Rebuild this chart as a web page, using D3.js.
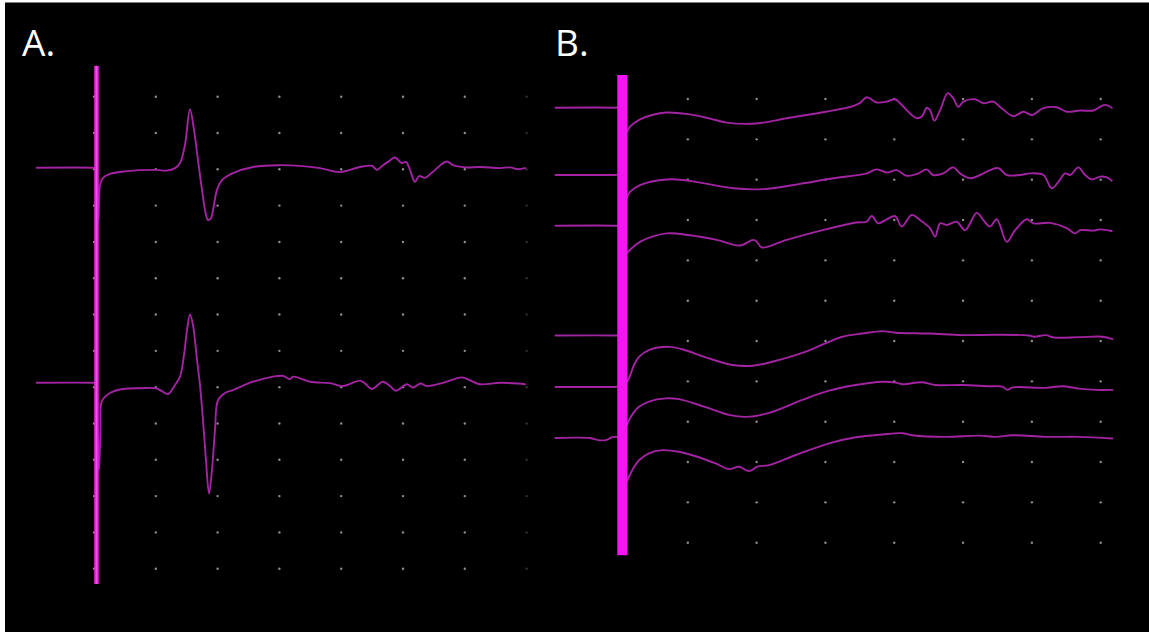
<!DOCTYPE html>
<html>
<head>
<meta charset="utf-8">
<script src="https://cdn.jsdelivr.net/npm/d3@7"></script>
<style>
  html, body { margin: 0; padding: 0; background: #ffffff; }
  svg { display: block; }
</style>
</head>
<body>
<svg id="chart" width="1149" height="632"></svg>
<script>
// ---------------- DATA ----------------
// Panel A: time in ms (1 ms / division), amplitude in mV (1 mV / division)
const gridTimesA = [0, 1, 2, 3, 4, 5, 6, 7];
const gridLevelsA = [0, 1, 2, 3, 4, 5, 6, 7, 8, 9, 10, 11, 12, 13];
const stimTimeA = 0.04;

const traceA1 = [[-0.927,0],[-0.032,0],[0.016,-0.01],[0.049,-0.89],[0.073,-1.44],[0.097,-0.48],[0.146,-0.28],[0.259,-0.17],[0.502,-0.10],[1.003,-0.06],[1.176,-0.08],[1.311,-0.01],[1.392,0.13],[1.472,0.63],[1.553,1.61],[1.618,1.04],[1.683,0.21],[1.748,-0.61],[1.812,-1.30],[1.845,-1.44],[1.893,-1.39],[1.926,-1.17],[1.99,-0.61],[2.071,-0.34],[2.249,-0.15],[2.573,0.02],[2.994,0.07],[3.333,0.05],[3.657,-0.01],[3.981,-0.12],[4.304,0.02],[4.5,0.05],[4.579,-0.06],[4.676,0.07],[4.757,0.16],[4.871,0.28],[4.979,0.13],[5.049,0.16],[5.113,-0.06],[5.194,-0.39],[5.259,-0.23],[5.356,-0.28],[5.485,-0.11],[5.707,0.17],[5.809,0.07],[6.003,0.01],[6.246,0.02],[6.57,-0.01],[6.731,0.01],[6.861,-0.04],[6.974,-0.01]];

const traceA2 = [[-0.927,0],[-0.032,0],[0.016,-0.01],[0.049,-1.03],[0.081,-2.40],[0.105,-1.30],[0.129,-0.50],[0.259,-0.28],[0.469,-0.17],[0.744,-0.15],[1.003,-0.15],[1.1,-0.23],[1.197,-0.31],[1.311,-0.06],[1.392,0.17],[1.456,0.76],[1.505,1.45],[1.553,1.88],[1.602,1.59],[1.667,0.63],[1.715,-0.06],[1.764,-1.03],[1.812,-2.13],[1.861,-3.05],[1.909,-2.40],[1.958,-1.30],[2.006,-0.48],[2.12,-0.28],[2.249,-0.20],[2.573,0.03],[2.896,0.17],[3.058,0.19],[3.172,0.10],[3.22,0.17],[3.495,0.03],[3.819,-0.01],[4.029,-0.09],[4.304,0.06],[4.401,-0.04],[4.494,-0.17],[4.676,0.03],[4.79,-0.09],[4.887,-0.22],[5.06,-0.04],[5.162,-0.13],[5.286,-0.02],[5.383,-0.09],[5.647,0],[5.95,0.15],[6.084,0.07],[6.246,-0.04],[6.57,0],[6.861,-0.02],[6.974,-0.04]];

// Panel B: time in ms (10 ms / division), amplitude in µV (10 µV / division)
const gridTimesB = [0, 10, 20, 30, 40, 50, 60, 70];
const gridLevelsB = [0, 1, 2, 3, 4, 5, 6, 7, 8, 9, 10, 11];
const stimTimeB = 0.49;

const traceB1 = [[-9.23,0],[-0.58,0],[0.15,-0.1],[0.58,-6.8],[1.16,-5.9],[1.6,-4.7],[3.05,-2.9],[4.8,-1.8],[6.93,-1.2],[10.03,-1.6],[13.23,-2.7],[15.66,-3.7],[20.01,-3.9],[24.38,-2.6],[30.04,-1.0],[34.01,0.4],[35.03,1.2],[36.0,2.6],[37.46,1.3],[38.91,1.5],[40.12,2.1],[40.84,1.1],[42.54,-1.8],[43.27,-2.6],[44.0,-2.2],[44.72,0],[45.2,-0.6],[45.83,-3.2],[46.66,-0.6],[47.78,3.6],[48.59,2.3],[49.32,0.2],[50.04,1.5],[51.74,2.1],[52.95,1.1],[54.4,1.5],[55.38,0.2],[57.31,-2.1],[58.77,-1.0],[59.99,-1.8],[61.67,-0.1],[63.62,0.1],[65.07,-1.0],[67.01,-0.7],[68.94,-0.7],[69.91,0.2],[70.64,0.7],[71.61,0]];

const traceB2 = [[-9.23,0],[-0.58,0],[0.15,0],[0.58,-8.7],[1.16,-5.4],[1.6,-4.2],[3.05,-2.5],[6.93,-1.1],[10.03,-1.4],[16.61,-3.3],[20.97,-3.5],[26.31,-2.2],[31.15,-0.8],[36.0,0.4],[37.46,1.4],[38.91,0.6],[40.36,1.2],[41.82,-0.2],[43.5,0.4],[44.72,1.4],[45.64,0],[47.14,0.4],[48.59,1.9],[49.56,0.4],[51.02,-0.8],[52.47,0],[53.92,1.2],[55.13,1.7],[56.35,0],[58.28,0],[59.74,0.4],[61.67,0],[62.89,-3.3],[63.85,-1.7],[64.83,0.4],[65.55,0],[66.76,1.9],[67.73,0],[68.71,-1.1],[69.91,-0.4],[70.88,-0.6],[71.61,-1.4]];

const traceB3 = [[-9.23,0],[-0.58,0],[0.15,-0.1],[0.58,-9.0],[1.16,-6.8],[1.6,-6.0],[3.05,-4.0],[6.93,-1.9],[10.03,-2.3],[14.2,-3.5],[17.59,-4.9],[19.52,-3.5],[20.06,-4.0],[20.74,-5.4],[24.38,-3.5],[30.04,-0.9],[34.55,0.8],[36.0,1.0],[36.73,2.4],[37.69,0.6],[38.91,1.6],[40.12,2.4],[41.09,-0.2],[42.54,2.7],[43.75,1.4],[45.2,-0.6],[45.93,-2.7],[46.66,0.6],[47.63,0.2],[49.08,1.0],[50.29,-1.1],[51.99,3.2],[52.95,1.4],[53.92,-0.2],[54.9,1.6],[56.35,-4.0],[57.56,-1.1],[59.26,1.6],[60.22,0.6],[62.65,0.7],[65.07,-0.6],[66.28,-1.9],[67.01,-1.1],[68.94,-1.2],[69.91,-0.9],[71.61,-1.3]];

const traceB4 = [[-9.23,0],[-0.58,0],[0.15,-0.1],[0.73,-12.3],[1.45,-10.6],[2.18,-7.3],[2.91,-5.3],[4.36,-3.6],[7.27,-2.8],[9.2,-3.4],[12.6,-5.4],[16.47,-7.3],[19.38,-7.5],[22.28,-6.5],[26.64,-4.3],[30.04,-1.9],[32.46,-0.3],[35.36,0.5],[38.27,1.1],[40.22,0.7],[45.06,0.5],[49.9,0.1],[54.75,0.2],[59.59,0],[60.32,-0.3],[62.02,0.1],[63.23,-0.5],[66.86,-0.4],[70.25,-0.3],[71.7,-0.9]];

const traceB5 = [[-9.23,0],[-0.58,0],[0.15,0],[0.73,-10.7],[1.45,-8.2],[2.18,-6.2],[2.91,-4.9],[4.36,-3.6],[6.79,-2.8],[8.72,-3.0],[12.6,-5.0],[15.99,-6.9],[18.42,-7.4],[21.8,-6.4],[26.64,-3.2],[30.52,-0.9],[34.4,0.5],[38.27,1.3],[40.22,1.1],[41.18,0.7],[44.08,1.2],[46.03,0.5],[49.9,0.5],[53.78,0.2],[55.71,0.1],[56.44,-0.7],[57.17,-0.1],[62.02,-0.2],[64.43,0.2],[66.86,-0.4],[69.29,-0.7],[71.7,-0.7]];

const traceB6 = [[-9.23,0],[-4.22,0],[-3.05,-0.5],[-1.89,-0.5],[-1.02,0.2],[0.15,0],[0.73,-11.7],[1.45,-9.6],[2.18,-7.2],[2.91,-5.5],[4.36,-3.8],[6.29,-3.0],[8.72,-3.4],[11.15,-4.5],[14.05,-6.3],[15.99,-7.7],[17.44,-7.1],[18.9,-8.2],[20.1,-7.1],[21.8,-6.7],[25.68,-4.2],[30.52,-1.3],[34.4,0.2],[38.27,0.9],[41.18,1.2],[42.63,0.7],[47.49,0.3],[52.33,0.6],[54.75,0.3],[57.17,0.7],[62.02,0.3],[66.86,0.3],[71.7,-0.1]];

const panelLabels = ["A.", "B."];

// ---------------- LAYOUT ----------------
const W = 1149, H = 632;
const svg = d3.select("#chart");

svg.append("rect").attr("x", 0).attr("y", 0).attr("width", W).attr("height", H).attr("fill", "#ffffff");
svg.append("rect").attr("x", 5).attr("y", 2.5).attr("width", W - 5).attr("height", H - 2.5).attr("fill", "#000000");

const traceColor = "#a224a2";
const dotColor = "#9c9c9c";

// Panel A scales (divisions)
const xA = d3.scaleLinear().domain([0, 7]).range([94, 526.6]);
const yA = d3.scaleLinear().domain([0, 13]).range([96.7, 568.7]);
const mVPerDivA = 1;
const channelPosA = [1.956, 7.88];

// Panel B scales
const xB = d3.scaleLinear().domain([0, 70]).range([619, 1100.7]);
const yB = d3.scaleLinear().domain([0, 11]).range([99, 542.7]);
const uVPerDivB = 10;
const channelPosB = [0.216, 1.884, 3.142, 5.864, 7.141, 8.406];

function drawGrid(g, xs, ys, times, levels, fadeLast) {
  const pts = [];
  times.forEach((t, i) => levels.forEach(l => pts.push({t, l, faint: fadeLast && i === times.length - 1})));
  g.append("g").selectAll("circle").data(pts).join("circle")
    .attr("cx", d => xs(d.t)).attr("cy", d => ys(d.l))
    .attr("r", 1.2)
    .attr("fill", dotColor)
    .attr("opacity", d => d.faint ? 0.3 : 0.9);
}

function drawTraces(g, xs, ys, traces, positions, perDiv) {
  traces.forEach((tr, i) => {
    const line = d3.line()
      .x(d => xs(d[0]))
      .y(d => ys(positions[i] - d[1] / perDiv))
      .curve(d3.curveCatmullRom.alpha(0.5));
    g.append("path").datum(tr)
      .attr("d", line)
      .attr("fill", "none")
      .attr("stroke", traceColor)
      .attr("stroke-width", 1.9)
      .attr("stroke-linejoin", "round")
      .attr("stroke-linecap", "round");
  });
}

// ---- Panel A ----
const gA = svg.append("g");
drawGrid(gA, xA, yA, gridTimesA, gridLevelsA, true);
drawTraces(gA, xA, yA, [traceA1, traceA2], channelPosA, mVPerDivA);
gA.append("rect")
  .attr("x", xA(stimTimeA) - 2.3).attr("width", 4.6)
  .attr("y", yA(-0.85)).attr("height", yA(13.42) - yA(-0.85))
  .attr("fill", "#dc22dc");
gA.append("rect")
  .attr("x", xA(stimTimeA) - 0.8).attr("width", 1.6)
  .attr("y", yA(-0.85)).attr("height", yA(13.42) - yA(-0.85))
  .attr("fill", "#f24ef2");

// ---- Panel B ----
const gB = svg.append("g");
drawGrid(gB, xB, yB, gridTimesB, gridLevelsB, false);
drawTraces(gB, xB, yB, [traceB1, traceB2, traceB3, traceB4, traceB5, traceB6], channelPosB, uVPerDivB);
gB.append("rect")
  .attr("x", xB(stimTimeB) - 5.1).attr("width", 10.2)
  .attr("y", yB(-0.595)).attr("height", yB(11.31) - yB(-0.595))
  .attr("fill", "#f614f6");

// ---- Labels ----
svg.append("text").attr("x", 22).attr("y", 55.5)
  .attr("font-family", "'Open Sans', 'DejaVu Sans', sans-serif")
  .attr("font-size", 37).attr("fill", "#ffffff")
  .text(panelLabels[0]);
svg.append("text").attr("x", 555).attr("y", 55.5)
  .attr("font-family", "'Open Sans', 'DejaVu Sans', sans-serif")
  .attr("font-size", 37).attr("fill", "#ffffff")
  .text(panelLabels[1]);
</script>
</body>
</html>
